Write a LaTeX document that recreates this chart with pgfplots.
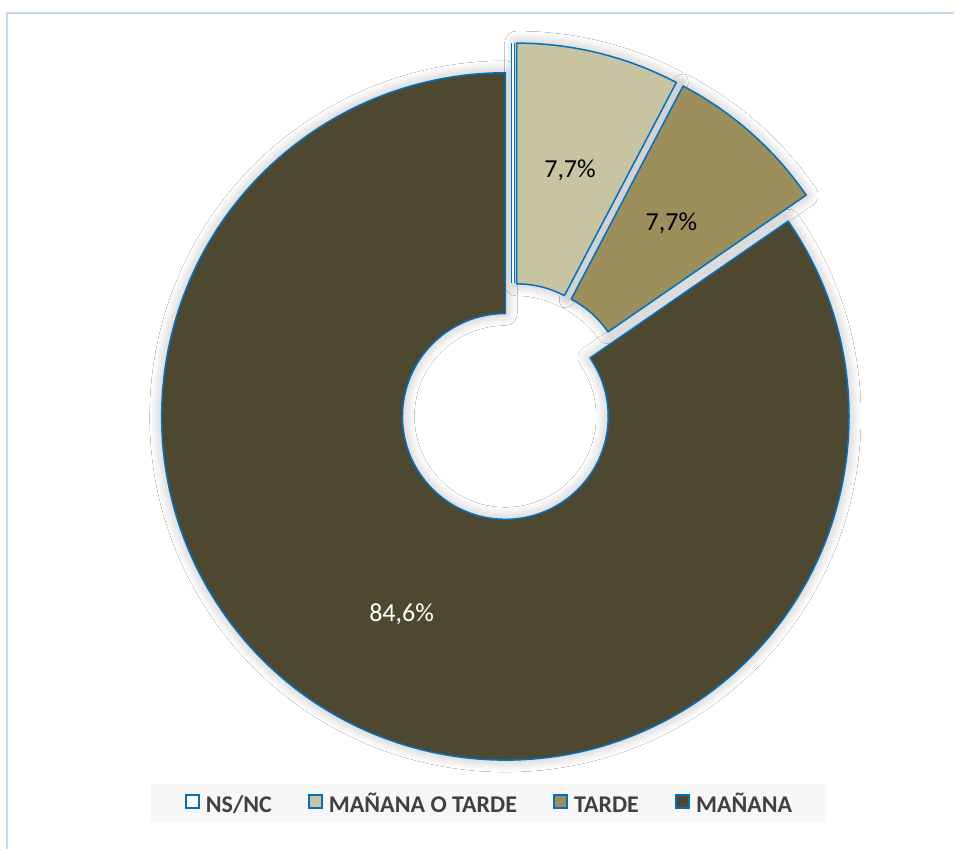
\documentclass[border=0pt]{standalone}
\usepackage{fontspec}
\setmainfont{Carlito}
\usepackage{pgfplots}
\usepackage{pgfplotstable}
\pgfplotsset{compat=1.18}
\usetikzlibrary{shadows.blur}

\definecolor{bord}{HTML}{0070C0}
\definecolor{cNS}{HTML}{FFFFFF}
\definecolor{cMT}{HTML}{C8C3A0}
\definecolor{cT}{HTML}{9C8F5B}
\definecolor{cM}{HTML}{4D482F}
\definecolor{framec}{HTML}{C6D9F1}
\definecolor{legfill}{HTML}{F7F7F7}
\definecolor{legtext}{HTML}{404040}

% slices, clockwise from 12 o'clock
\pgfplotstableread[col sep=comma]{
label,value,fill,text
NS/NC,0,cNS,black
MAÑANA O TARDE,1,cMT,black
TARDE,1,cT,black
MAÑANA,11,cM,white
}\slices

% geometry (axis units = pixels, 1px = 0.5pt)
\def\Tx{513.3}\def\Ty{447.3}\def\Dx{16}
\def\Rout{172pt}\def\Rin{51.5pt}\def\Rlab{111.75pt}

\newcommand\store[2]{\pgfmathsetmacro\tmp{#2}\expandafter\xdef\csname #1\endcsname{\tmp}}

\newcommand\slicepath[1]{%
  ([shift={(\csname ps#1\endcsname:\Rout)}]axis cs:\csname cx#1\endcsname,\csname cy#1\endcsname)
  arc[start angle=\csname ps#1\endcsname, end angle=\csname pe#1\endcsname, radius=\Rout]
  -- ([shift={(\csname pe#1\endcsname:\Rin)}]axis cs:\csname cx#1\endcsname,\csname cy#1\endcsname)
  arc[start angle=\csname pe#1\endcsname, end angle=\csname ps#1\endcsname, radius=\Rin] -- cycle}

% angles and label values from the table
\def\total{0}
\pgfplotsforeachungrouped \i in {0,...,3}{%
  \pgfplotstablegetelem{\i}{value}\of\slices
  \pgfmathsetmacro\total{\total+\pgfplotsretval}}
\def\cum{0}
\pgfplotsforeachungrouped \i in {0,...,3}{%
  \pgfplotstablegetelem{\i}{value}\of\slices
  \let\val\pgfplotsretval
  \expandafter\xdef\csname v\i\endcsname{\val}%
  \pgfmathsetmacro\aS{\cum/\total*360}%
  \pgfmathsetmacro\cum{\cum+\val}%
  \pgfmathsetmacro\aE{\cum/\total*360}%
  \pgfmathsetmacro\aM{(\aS+\aE)/2}%
  \store{ps\i}{90-\aS}%
  \store{pe\i}{90-\aE}%
  \store{pm\i}{90-\aM}%
  \store{cx\i}{\Tx+\Dx*sin(\aM)}%
  \store{cy\i}{\Ty+\Dx*cos(\aM)}%
  \store{pc\i}{\val/\total*100}%
  \pgfplotstablegetelem{\i}{fill}\of\slices
  \colorlet{slicefill\i}{\pgfplotsretval}%
  \pgfplotstablegetelem{\i}{text}\of\slices
  \colorlet{slicetext\i}{\pgfplotsretval}%
  \pgfplotstablegetelem{\i}{label}\of\slices
  \expandafter\xdef\csname lb\i\endcsname{\pgfplotsretval}%
}

\begin{document}
\begin{tikzpicture}
\begin{axis}[
  hide axis, x=0.5pt, y=0.5pt,
  xmin=0, xmax=955, ymin=0, ymax=850, clip=false,
  legend columns=4,
  legend style={at={(0.512,0.0541)}, anchor=center, fill=legfill, draw=none,
    font=\fontsize{12}{14}\selectfont\bfseries, text=legtext,
    inner xsep=17pt, inner ysep=5pt,
    nodes={inner sep=0pt, text height=8.4pt, text depth=0pt},
    /tikz/every odd column/.append style={column sep=3pt},
    /tikz/every even column/.append style={column sep=18pt}},
  legend image code/.code={\filldraw[#1, line width=1pt] (0pt,-2.1pt) rectangle (6.6pt,4.5pt);},
]
\fill[white] (axis cs:0,0) rectangle (axis cs:955,850);
\draw[framec, line width=1pt] (axis cs:7.5,0) -- (axis cs:7.5,836.5) -- (axis cs:955,836.5);

% shadows first
\pgfplotsinvokeforeach{0,...,3}{%
  \ifdim\csname v#1\endcsname pt>0pt
  \path[blur shadow={shadow xshift=0pt, shadow yshift=0pt,
      shadow blur radius=6pt, shadow blur steps=14, shadow opacity=28}]
    \slicepath{#1};
  \fi
}
% slices
\pgfplotsinvokeforeach{0,...,3}{%
  \ifdim\csname v#1\endcsname pt>0pt
  \filldraw[fill=slicefill#1, draw=bord, line width=0.75pt, line join=round] \slicepath{#1};
  \node[text=slicetext#1, font=\fontsize{13}{15}\selectfont]
    at ([shift={(\csname pm#1\endcsname:\Rlab)}]axis cs:\csname cx#1\endcsname,\csname cy#1\endcsname)
    {\pgfmathprintnumber[fixed,fixed zerofill,precision=1,use comma,assume math mode=true]{\csname pc#1\endcsname}\%};
  \else
  \draw[bord, line width=0.6pt, double=slicefill#1, double distance=0.75pt]
    ([shift={(\csname ps#1\endcsname:\Rout)}]axis cs:\csname cx#1\endcsname,\csname cy#1\endcsname)
    -- ([shift={(\csname ps#1\endcsname:\Rin)}]axis cs:\csname cx#1\endcsname,\csname cy#1\endcsname);
  \fi
}
% legend
\pgfplotsinvokeforeach{0,...,3}{%
  \addlegendimage{fill=slicefill#1, draw=bord}
  \addlegendentry{\csname lb#1\endcsname}
}
\end{axis}
\end{tikzpicture}
\end{document}
